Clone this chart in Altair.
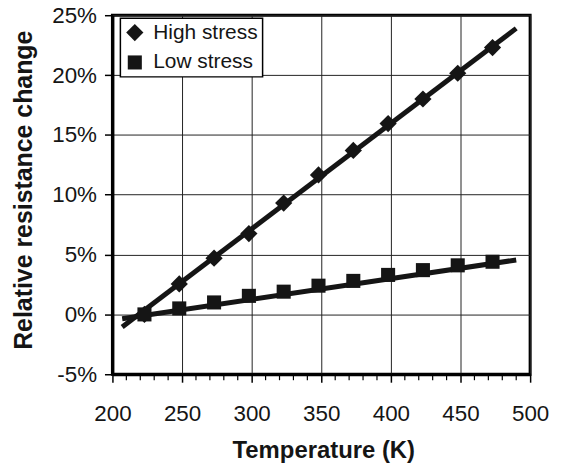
import altair as alt
import pandas as pd

# Data
temps = [223, 248, 273, 298, 323, 348, 373, 398, 423, 448, 473]
high_stress = [0.0, 2.55, 4.7, 6.75, 9.3, 11.65, 13.7, 15.95, 18.0, 20.15, 22.3]
low_stress = [0.0, 0.5, 1.0, 1.55, 1.9, 2.4, 2.8, 3.3, 3.7, 4.1, 4.4]

# Trend-line end points
line_temps = [207, 490]
high_line = [-1.05, 23.9]
low_line = [-0.36, 4.55]

series_names = ["High stress", "Low stress"]
x_ticks = [200, 250, 300, 350, 400, 450, 500]
x_minor = [210, 220, 230, 240, 260, 270, 280, 290, 310, 320, 330, 340,
           360, 370, 380, 390, 410, 420, 430, 440, 460, 470, 480, 490]
y_ticks = [-0.05, 0.0, 0.05, 0.10, 0.15, 0.20, 0.25]

pts = pd.DataFrame(
    [{"T": t, "v": v / 100, "series": series_names[0]} for t, v in zip(temps, high_stress)]
    + [{"T": t, "v": v / 100, "series": series_names[1]} for t, v in zip(temps, low_stress)]
)
lines = pd.DataFrame(
    [{"T": t, "v": v / 100, "series": series_names[0]} for t, v in zip(line_temps, high_line)]
    + [{"T": t, "v": v / 100, "series": series_names[1]} for t, v in zip(line_temps, low_line)]
)
minor = pd.DataFrame({"T": x_minor})

W, H = 420, 361
FONT = "Liberation Sans"
INK = "#151515"

xscale = alt.Scale(domain=[200, 500], nice=False, zero=False)
yscale = alt.Scale(domain=[-0.05, 0.25], nice=False, zero=False)

xaxis = alt.Axis(
    values=x_ticks, title="Temperature (K)", grid=True, labelFlush=False,
    tickSize=8, tickWidth=1.5, tickColor="black",
    labelFontSize=22.5, labelPadding=39, labelBaseline="alphabetic",
    titleFontSize=24, titleFontWeight="bold", titleX=W / 2 + 2, titleY=84,
    titleBaseline="alphabetic",
)
yaxis = alt.Axis(
    values=y_ticks, title="Relative resistance change", grid=True, labelFlush=False,
    labelExpr="(datum.value < 0 ? '-' : '') + format(abs(datum.value) * 100, '.0f') + '%'",
    tickSize=8, tickWidth=1.5, tickColor="black",
    labelFontSize=22.5, labelPadding=8,
    titleFontSize=25, titleFontWeight="bold", titleX=-89, titleY=H / 2 - 5,
    titleBaseline="middle", titleAlign="center",
)

legend_def = alt.Legend(
    title=None, orient="none", legendX=8, legendY=3,
    strokeColor="black", fillColor="white", padding=4,
    labelFontSize=21, labelColor=INK, labelOffset=8,
    labelExpr="datum.label + '\u00a0\u00a0\u00a0'",
    symbolFillColor=INK, symbolStrokeColor=INK,
    symbolStrokeWidth=0, rowPadding=8,
)

line_layer = alt.Chart(lines).mark_line(strokeWidth=5, color=INK).encode(
    x=alt.X("T:Q", scale=xscale, axis=xaxis),
    y=alt.Y("v:Q", scale=yscale, axis=yaxis),
    detail="series:N",
)

point_layer = alt.Chart(pts).mark_point(filled=True, opacity=1, color=INK).encode(
    x=alt.X("T:Q", scale=xscale),
    y=alt.Y("v:Q", scale=yscale),
    shape=alt.Shape(
        "series:N",
        scale=alt.Scale(domain=series_names, range=["diamond", "square"]),
        legend=legend_def,
    ),
    size=alt.Size(
        "series:N",
        scale=alt.Scale(domain=series_names, range=[300, 200]),
        legend=legend_def,
    ),
)

minor_layer = alt.Chart(minor).mark_rule(color="black", strokeWidth=1.2).encode(
    x=alt.X("T:Q", scale=xscale),
    y=alt.value(H),
    y2=alt.value(H + 6),
)

chart = alt.layer(line_layer, point_layer, minor_layer).properties(
    width=W, height=H,
    autosize=alt.AutoSizeParams(type="none"),
    padding={"left": 105, "top": 6, "right": 24, "bottom": 90},
).configure(
    font=FONT,
).configure_view(
    stroke="black", strokeWidth=3,
).configure_axis(
    domainColor="black", domainWidth=3,
    gridColor="#222222", gridWidth=1, gridOpacity=1,
    labelColor=INK, titleColor=INK, labelFont=FONT, titleFont=FONT,
).configure_legend(
    labelFont=FONT, strokeWidth=1.5,
)

chart.save("out.html", embed_options={"renderer": "svg", "actions": False})
